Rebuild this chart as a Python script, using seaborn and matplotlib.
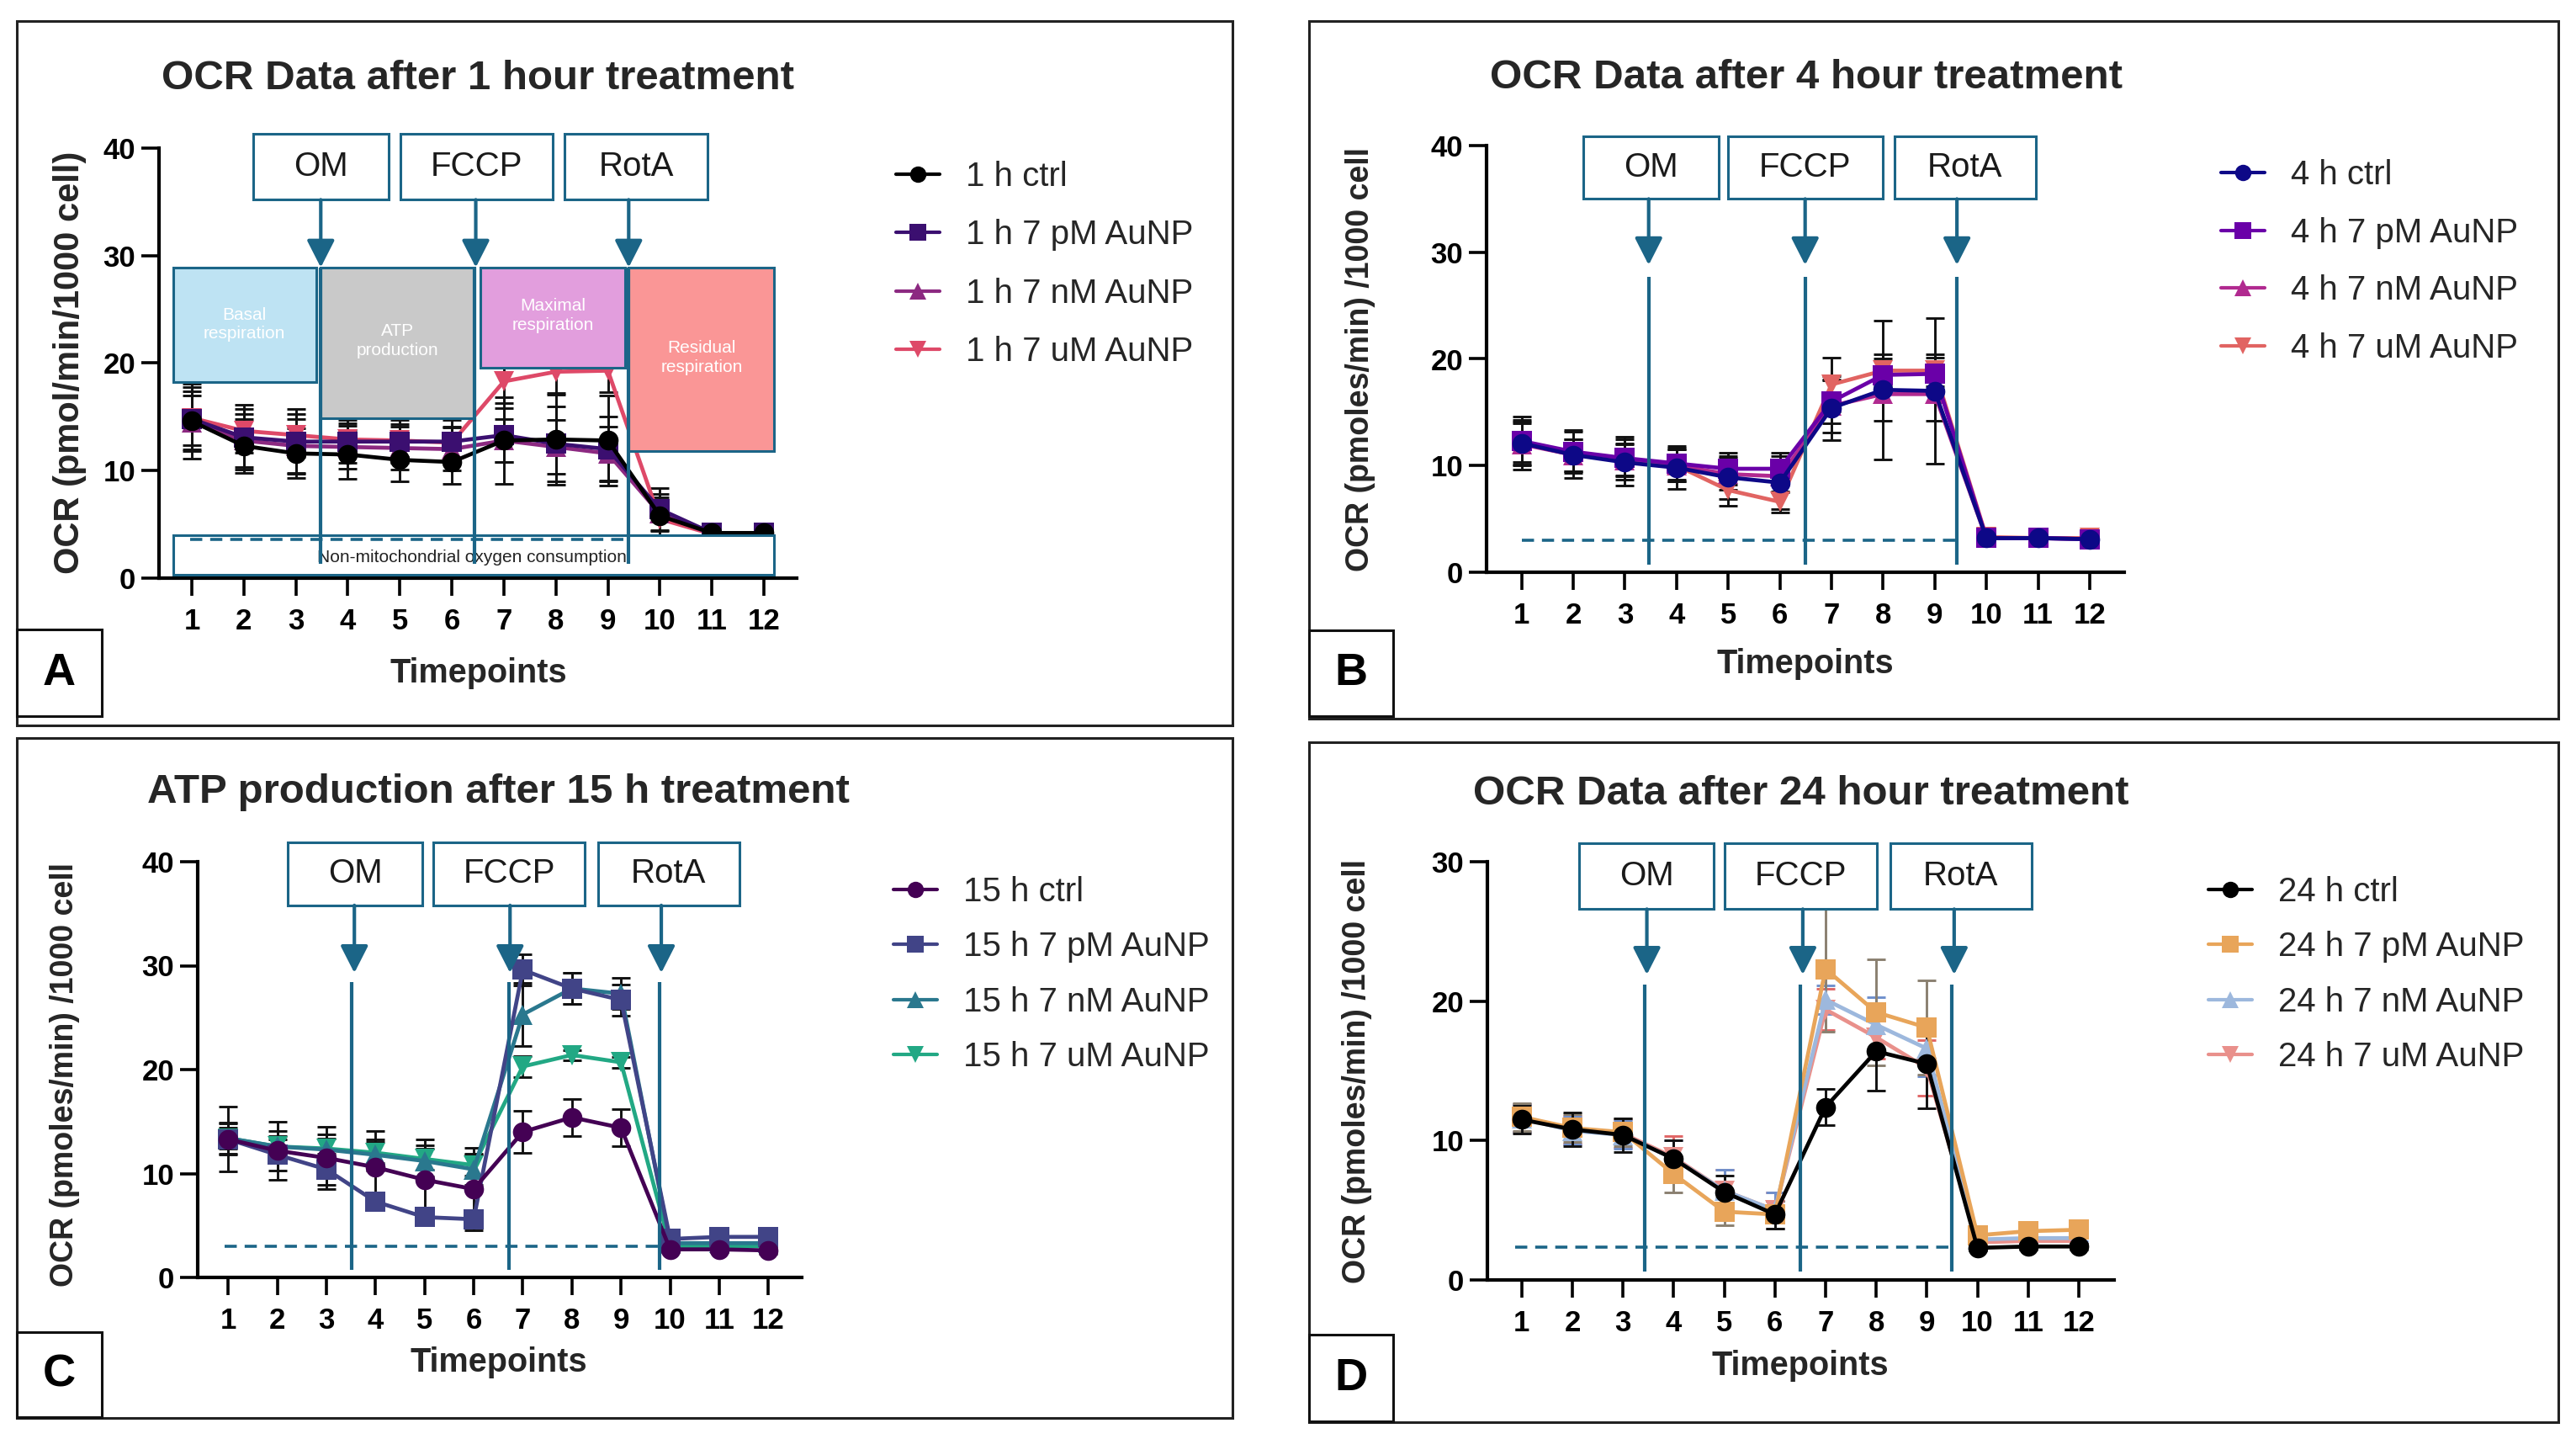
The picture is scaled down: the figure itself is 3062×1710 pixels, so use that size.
import matplotlib
matplotlib.use("Agg")
import matplotlib.pyplot as plt
from matplotlib.patches import Rectangle
from matplotlib.lines import Line2D
import seaborn as sns
import pandas as pd
import numpy as np

# ---------------- data ----------------
timepoints = list(range(1, 13))

# Panel A (1 h)
a_labels = ["1 h ctrl", "1 h 7 pM AuNP", "1 h 7 nM AuNP", "1 h 7 uM AuNP"]
a_ctrl = [14.6, 12.3, 11.6, 11.5, 11.0, 10.8, 12.8, 12.9, 12.8, 5.8, 4.2, 4.2]
a_pM   = [14.8, 13.1, 12.7, 12.7, 12.7, 12.7, 13.3, 12.5, 12.0, 6.4, 4.2, 4.2]
a_nM   = [14.5, 12.8, 12.3, 12.2, 12.1, 12.0, 12.8, 12.2, 11.6, 6.0, 4.1, 4.1]
a_uM   = [14.9, 13.7, 13.3, 12.9, 12.8, 12.6, 18.3, 19.2, 19.3, 5.5, 4.1, 4.1]
a_ctrl_sd = [3.5, 2.5, 2.3, 2.3, 2.0, 2.0, 4.0, 4.2, 4.2, 2.0, 0.5, 0.3]
a_pM_sd   = [3.0, 3.0, 3.0, 2.0, 2.0, 2.0, 2.5, 3.5, 3.0, 2.0, 0.4, 0.3]
a_nM_sd   = [2.5, 2.5, 2.5, 2.0, 2.0, 2.0, 2.0, 2.5, 2.5, 1.5, 0.4, 0.3]
a_uM_sd   = [2.5, 2.0, 2.0, 1.5, 1.5, 1.5, 2.0, 2.0, 2.0, 1.5, 0.4, 0.3]

# Panel B (4 h)
b_labels = ["4 h ctrl", "4 h 7 pM AuNP", "4 h 7 nM AuNP", "4 h 7 uM AuNP"]
b_ctrl = [12.1, 11.0, 10.3, 9.8, 8.9, 8.4, 15.4, 17.1, 17.0, 3.2, 3.2, 3.1]
b_pM   = [12.3, 11.3, 10.7, 10.2, 9.7, 9.7, 16.0, 18.5, 18.6, 3.2, 3.2, 3.1]
b_nM   = [12.0, 11.0, 10.5, 10.0, 9.2, 9.0, 15.6, 16.7, 16.7, 3.2, 3.2, 3.1]
b_uM   = [12.1, 11.0, 10.6, 10.0, 7.7, 6.6, 17.6, 18.9, 18.9, 3.3, 3.2, 3.2]
b_ctrl_sd = [2.5, 2.2, 2.2, 2.0, 2.0, 2.5, 3.0, 6.5, 6.8, 0.3, 0.3, 0.3]
b_pM_sd   = [2.0, 2.0, 2.0, 1.5, 1.5, 1.5, 2.0, 1.5, 1.5, 0.3, 0.3, 0.3]
b_nM_sd   = [2.0, 1.5, 1.5, 1.5, 1.5, 1.5, 2.5, 2.5, 2.5, 0.3, 0.3, 0.3]
b_uM_sd   = [2.0, 1.5, 1.5, 1.5, 1.5, 1.0, 2.5, 1.5, 1.5, 0.3, 0.3, 0.3]

# Panel C (15 h)
c_labels = ["15 h ctrl", "15 h 7 pM AuNP", "15 h 7 nM AuNP", "15 h 7 uM AuNP"]
c_ctrl = [13.3, 12.2, 11.5, 10.6, 9.4, 8.5, 14.0, 15.4, 14.4, 2.7, 2.7, 2.6]
c_pM   = [13.3, 11.8, 10.4, 7.3, 5.8, 5.6, 29.6, 27.8, 26.7, 3.7, 3.9, 3.9]
c_nM   = [13.4, 12.6, 12.3, 11.8, 11.2, 10.4, 25.3, 27.8, 27.3, 3.3, 3.3, 3.3]
c_uM   = [13.4, 12.6, 12.4, 12.0, 11.4, 10.8, 20.3, 21.4, 20.7, 3.0, 3.0, 3.0]
c_ctrl_sd = [3.1, 2.8, 3.0, 3.5, 3.9, 4.0, 2.0, 1.8, 1.8, 0.3, 0.3, 0.3]
c_pM_sd   = [1.5, 1.5, 1.5, 0.8, 0.5, 0.5, 1.5, 1.5, 1.5, 0.3, 0.3, 0.3]
c_nM_sd   = [1.5, 1.5, 1.5, 1.5, 1.5, 1.5, 3.0, 1.5, 1.5, 0.3, 0.3, 0.3]
c_uM_sd   = [1.0, 1.0, 1.0, 1.0, 1.0, 1.0, 1.0, 0.5, 0.5, 0.3, 0.3, 0.3]

# Panel D (24 h)
d_labels = ["24 h ctrl", "24 h 7 pM AuNP", "24 h 7 nM AuNP", "24 h 7 uM AuNP"]
d_ctrl = [11.5, 10.8, 10.4, 8.7, 6.3, 4.7, 12.4, 16.4, 15.5, 2.3, 2.4, 2.4]
d_pM   = [11.7, 10.9, 10.6, 7.6, 4.9, 4.7, 22.3, 19.2, 18.1, 3.2, 3.5, 3.6]
d_nM   = [11.6, 10.7, 10.4, 8.7, 6.4, 5.0, 20.1, 18.3, 16.6, 2.9, 3.0, 3.0]
d_uM   = [11.6, 10.8, 10.5, 8.8, 6.4, 5.0, 19.4, 17.4, 15.2, 2.7, 2.8, 2.8]
d_ctrl_sd = [1.0, 1.2, 1.2, 1.3, 1.2, 1.0, 1.3, 2.8, 3.2, 0.2, 0.2, 0.2]
d_pM_sd   = [1.0, 1.0, 1.0, 1.3, 1.0, 1.0, 4.5, 3.8, 3.4, 0.2, 0.2, 0.2]
d_nM_sd   = [1.0, 1.0, 1.0, 1.3, 1.5, 1.3, 1.0, 2.0, 2.0, 0.2, 0.2, 0.2]
d_uM_sd   = [1.0, 1.0, 1.0, 1.5, 1.5, 1.3, 1.5, 1.5, 2.0, 0.2, 0.2, 0.2]

drugs = ["OM", "FCCP", "RotA"]
phase_labels = ["Basal\nrespiration", "ATP\nproduction", "Maximal\nrespiration", "Residual\nrespiration"]
titles = ["OCR Data after 1 hour treatment", "OCR Data after 4 hour treatment",
          "ATP production after 15 h treatment", "OCR Data after 24 hour treatment"]
ylabels = ["OCR (pmol/min/1000 cell)", "OCR (pmoles/min) /1000 cell",
           "OCR (pmoles/min) /1000 cell", "OCR (pmoles/min) /1000 cell"]
panel_letters = ["A", "B", "C", "D"]

# ---------------- styling ----------------
W, H = 3062, 1710
TEAL = "#1B6587"
MARKERS = ["o", "s", "^", "v"]
pal_a = ["#000000", "#3B0F70", "#8C2981", "#DE4968"]
pal_b = ["#0D0887", "#6A00A8", "#B12A90", "#E16462"]
pal_c = ["#440154", "#414487", "#2A788E", "#22A884"]
pal_d = ["#000000", "#E8A55A", "#9DB8DD", "#E9908B"]
err_a = ["#111111"] * 4
err_b = ["#111111"] * 4
err_c = ["#111111"] * 4
err_d = ["#111111", "#8a8070", "#6f90cc", "#e06666"]

sns.set_theme(style="ticks")
plt.rcParams["font.family"] = ["Liberation Sans", "DejaVu Sans"]

fig = plt.figure(figsize=(W / 100, H / 100), dpi=100)
fig.patch.set_facecolor("white")


def fx(px):
    return px / W


def fy(py):
    return 1 - py / H


def make_axes(left, right, top, bottom):
    return fig.add_axes([fx(left), fy(bottom), (right - left) / W, (bottom - top) / H])


def panel(ax, labels, series, sds, pal, errc, xlim, ylim, yticks):
    rows = []
    for lab, vals in zip(labels, series):
        for t, v in zip(timepoints, vals):
            rows.append({"t": t, "v": v, "g": lab})
    df = pd.DataFrame(rows)
    order = labels[::-1]
    pdict = dict(zip(labels, pal))
    mdict = dict(zip(labels, MARKERS))
    for lab, vals, sd, ec in zip(labels[::-1], series[::-1], sds[::-1], errc[::-1]):
        ax.errorbar(timepoints, vals, yerr=sd, fmt="none", ecolor=ec, elinewidth=2.1,
                    capsize=8, capthick=2.1, zorder=1.5)
    sns.lineplot(data=df, x="t", y="v", hue="g", style="g", hue_order=order,
                 style_order=order, palette=pdict, markers=mdict, dashes=False,
                 lw=3.4, markersize=17, markeredgewidth=0, legend=False, ax=ax,
                 errorbar=None, zorder=2)
    ax.set_xlim(*xlim)
    ax.set_ylim(*ylim)
    ax.set_xticks(timepoints)
    ax.set_xticklabels([str(t) for t in timepoints])
    ax.set_yticks(yticks)
    ax.set_xlabel("")
    ax.set_ylabel("")
    for s in ["top", "right"]:
        ax.spines[s].set_visible(False)
    for s in ["left", "bottom"]:
        ax.spines[s].set_linewidth(3)
        ax.spines[s].set_color("black")
    ax.tick_params(axis="both", direction="out", length=15, width=2.6, color="black",
                   labelsize=25, labelcolor="black")
    ax.tick_params(axis="x", pad=10)
    ax.tick_params(axis="y", pad=5)
    for lb in ax.get_xticklabels() + ax.get_yticklabels():
        lb.set_fontweight("bold")
    ax.set_facecolor("none")
    ax.grid(False)


def injections(ax, box_x, box_y, arrow_x, arrow_y, line_x, line_y, dash_x, dash_y):
    for name, (x0, x1) in zip(drugs, box_x):
        ax.add_patch(Rectangle((x0, box_y[0]), x1 - x0, box_y[1] - box_y[0], fc="white",
                               ec=TEAL, lw=2.2, clip_on=False, zorder=6))
        ax.text((x0 + x1) / 2, (box_y[0] + box_y[1]) / 2, name, ha="center", va="center",
                fontsize=29, color="#1a1a1a", zorder=7, clip_on=False)
    for xa in arrow_x:
        ax.annotate("", xy=(xa, arrow_y[1]), xytext=(xa, arrow_y[0]),
                    arrowprops=dict(arrowstyle="-|>,head_length=0.55,head_width=0.28",
                                    color=TEAL, lw=3, shrinkA=0, shrinkB=0,
                                    mutation_scale=36), zorder=7, annotation_clip=False)
    for xl in line_x:
        ax.plot([xl, xl], line_y, color=TEAL, lw=3, zorder=6, solid_capstyle="butt")
    ax.plot(dash_x, [dash_y, dash_y], color=TEAL, lw=2.6, ls=(0, (4, 2.6)), zorder=6)


def legend_at(labels, pal, x, y, spacing):
    handles = [Line2D([0], [0], color=c, marker=m, lw=3, ms=14, markeredgewidth=0)
               for c, m in zip(pal, MARKERS)]
    fig.legend(handles, labels, loc="upper left", bbox_to_anchor=(fx(x), fy(y)),
               frameon=False, fontsize=29, handlelength=1.3, handletextpad=0.75,
               labelspacing=spacing, borderpad=0, borderaxespad=0)


def frame(x0, y0, x1, y1, lw=2.2):
    fig.add_artist(Rectangle((fx(x0), fy(y1)), (x1 - x0) / W, (y1 - y0) / H,
                             transform=fig.transFigure, fill=False, ec="#222222", lw=lw))


def letter_box(x0, y0, x1, y1, letter):
    fig.add_artist(Rectangle((fx(x0), fy(y1)), (x1 - x0) / W, (y1 - y0) / H,
                             transform=fig.transFigure, fc="white", ec="#111111", lw=2.2))
    fig.text(fx((x0 + x1) / 2), fy((y0 + y1) / 2), letter, ha="center", va="center",
             fontsize=39, fontweight="bold", color="black")


# ---------------- panel frames ----------------
frame(20, 25, 1465, 862)
frame(1556, 25, 3041, 854)
frame(20, 877, 1465, 1685)
frame(1556, 882, 3041, 1690)

# ---------------- Panel A ----------------
axA = make_axes(189, 947, 176, 687)
panel(axA, a_labels, [a_ctrl, a_pM, a_nM, a_uM], [a_ctrl_sd, a_pM_sd, a_nM_sd, a_uM_sd],
      pal_a, err_a, (0.37, 12.63), (0, 40), [0, 10, 20, 30, 40])
phase_x = [(0.64, 3.39), (3.48, 6.44), (6.55, 9.33), (9.40, 12.2)]
phase_y = [(18.2, 28.9), (14.9, 28.9), (19.6, 28.9), (11.8, 28.9)]
phase_fc = ["#BEE3F3", "#C9C9C9", "#E29EDD", "#FA9696"]
phase_text_y = [23.6, 22.1, 24.4, 20.5]
for (x0, x1), (y0, y1), fc, lab, ty in zip(phase_x, phase_y, phase_fc, phase_labels, phase_text_y):
    axA.add_patch(Rectangle((x0, y0), x1 - x0, y1 - y0, fc=fc, ec=TEAL, lw=2.2, zorder=4))
    axA.text((x0 + x1) / 2, ty, lab, ha="center", va="center", fontsize=15,
             color="white", zorder=5, linespacing=1.25)
axA.add_patch(Rectangle((0.64, 0.3), 12.2 - 0.64, 4.0 - 0.3, fc="white", ec=TEAL, lw=2.2,
                        zorder=4, clip_on=False))
axA.text(6.39, 1.9, "Non-mitochondrial oxygen consumption", ha="center", va="center",
         fontsize=15, color="#222222", zorder=5)
injections(axA, [(2.18, 4.79), (5.01, 7.94), (8.17, 10.92)], (35.2, 41.3),
           [3.48, 6.46, 9.40], (35.2, 28.9), [3.48, 6.44, 9.40], (28.9, 1.3),
           [0.97, 9.38], 3.6)

# ---------------- Panel B ----------------
axB = make_axes(1767, 2525, 173, 680)
panel(axB, b_labels, [b_ctrl, b_pM, b_nM, b_uM], [b_ctrl_sd, b_pM_sd, b_nM_sd, b_uM_sd],
      pal_b, err_b, (0.32, 12.67), (0, 40), [0, 10, 20, 30, 40])
injections(axB, [(2.19, 4.81), (5.0, 7.99), (8.22, 10.96)], (35.0, 40.9),
           [3.46, 6.49, 9.43], (35.0, 28.8), [3.46, 6.49, 9.43], (27.7, 0.7),
           [1.0, 9.43], 3.0)

# ---------------- Panel C ----------------
axC = make_axes(235, 953, 1024, 1518)
panel(axC, c_labels, [c_ctrl, c_pM, c_nM, c_uM], [c_ctrl_sd, c_pM_sd, c_nM_sd, c_uM_sd],
      pal_c, err_c, (0.38, 12.68), (0, 40), [0, 10, 20, 30, 40])
injections(axC, [(2.22, 4.96), (5.18, 8.26), (8.53, 11.41)], (35.8, 41.9),
           [3.57, 6.74, 9.82], (35.8, 29.3), [3.52, 6.72, 9.78], (28.4, 0.7),
           [0.93, 9.78], 3.0)

# ---------------- Panel D ----------------
axD = make_axes(1768, 2513, 1024, 1521)
panel(axD, d_labels, [d_ctrl, d_pM, d_nM, d_uM], [d_ctrl_sd, d_pM_sd, d_nM_sd, d_uM_sd],
      pal_d, err_d, (0.32, 12.70), (0, 30), [0, 10, 20, 30])
injections(axD, [(2.13, 4.79), (5.0, 8.01), (8.28, 11.07)], (26.6, 31.3),
           [3.47, 6.55, 9.54], (26.6, 21.9), [3.43, 6.51, 9.49], (21.2, 0.6),
           [0.87, 9.49], 2.35)

# ---------------- titles, axis labels ----------------
title_pos = [(568, 106), (2147, 105), (592, 954), (2141, 956)]
xlab_pos = [(569, 811), (2146, 800), (593, 1630), (2140, 1634)]
ylab_pos = [(83, 431, 30), (1617, 427, 27), (77, 1277, 27), (1613, 1273, 27)]
for t, (x, y) in zip(titles, title_pos):
    fig.text(fx(x), fy(y), t, ha="center", va="baseline", fontsize=35.5, fontweight="bold")
for (x, y) in xlab_pos:
    fig.text(fx(x), fy(y), "Timepoints", ha="center", va="baseline", fontsize=28.5,
             fontweight="bold")
for lab, (x, y, fs) in zip(ylabels, ylab_pos):
    fig.text(fx(x), fy(y), lab, ha="center", va="center", rotation=90, fontsize=fs,
             fontweight="bold")

# ---------------- legends ----------------
legend_at(a_labels, pal_a, 1065, 191, 0.78)
legend_at(b_labels, pal_b, 2640, 189, 0.76)
legend_at(c_labels, pal_c, 1062, 1041, 0.68)
legend_at(d_labels, pal_d, 2625, 1041, 0.68)

# ---------------- panel letters ----------------
letter_box(20, 748, 121, 851, "A")
letter_box(1556, 749, 1656, 851, "B")
letter_box(20, 1583, 121, 1684, "C")
letter_box(1556, 1586, 1656, 1689, "D")

fig.savefig("out.png", dpi=100, facecolor="white")
